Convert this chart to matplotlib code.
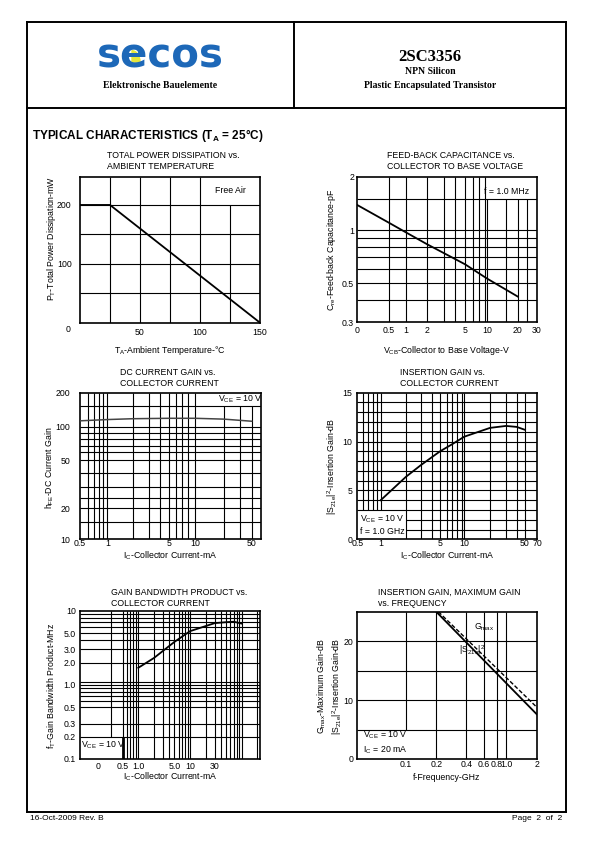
import matplotlib
matplotlib.use("Agg")
import matplotlib.pyplot as plt
import numpy as np
from matplotlib.lines import Line2D
from matplotlib.patches import Wedge

plt.rcParams["font.family"] = ["Liberation Sans", "DejaVu Sans"]
plt.rcParams["mathtext.fontset"] = "custom"
plt.rcParams["mathtext.rm"] = "Liberation Sans"
plt.rcParams["mathtext.bf"] = "Liberation Sans:bold"

# ---- data ----
temp_c = [0, 25, 150]
power_mw = [200, 200, 0]

vcb_v = [0, 0.5, 1, 2, 5, 10, 20]
cre_pf = [1.39, 1.10, 0.97, 0.83, 0.64, 0.53, 0.42]

ic_hfe_ma = [0.5, 1, 2, 5, 10, 20, 50]
hfe = [114, 117, 119, 120, 120, 118, 113]

ic_s21_ma = [1, 2, 3, 5, 7, 10, 20, 30, 40, 50]
s21_db = [4.0, 6.4, 7.6, 9.0, 9.7, 10.5, 11.4, 11.6, 11.5, 11.2]

ic_ft_ma = [1, 2, 5, 10, 20, 30, 50, 70, 100]
ft = [1.7, 2.3, 3.8, 5.3, 6.2, 6.8, 7.0, 7.1, 6.7]

freq_ghz = [0.2, 2.0]
s21_f_db = [25, 7.6]
freq_gmax_ghz = [0.21, 2.0]
gmax_db = [25, 8.8]

W, H = 595, 842
fig = plt.figure(figsize=(W / 100, H / 100), dpi=100)


def rect(l, t, r, b):
    return [l / W, 1 - b / H, (r - l) / W, (b - t) / H]


def ftext(x, y, s, **kw):
    fig.text(x / W, 1 - y / H, s, **kw)


def fline(x0, y0, x1, y1, lw=1.4):
    fig.add_artist(Line2D([x0 / W, x1 / W], [1 - y0 / H, 1 - y1 / H], color="k", lw=lw))


def piece(vals, pos):
    # hand drawn datasheet axes: value -> paper position, piecewise
    vals = np.asarray(vals, float)
    pos = np.asarray(pos, float)
    return (lambda v: np.interp(v, vals, pos), lambda p: np.interp(p, pos, vals))


def grid(ax, xs, ys, box=None, lw=0.8):
    xa, xb = ax.get_xlim()
    ya, yb = ax.get_ylim()
    for x in xs:
        if box and box[0] < x < box[1]:
            segs = [(ya, box[2]), (box[3], yb)]
        else:
            segs = [(ya, yb)]
        for a, b in segs:
            if b > a:
                ax.vlines(x, a, b, color="k", lw=lw, zorder=1)
    for y in ys:
        if box and box[2] < y < box[3]:
            segs = [(xa, box[0]), (box[1], xb)]
        else:
            segs = [(xa, xb)]
        for a, b in segs:
            if b > a:
                ax.hlines(y, a, b, color="k", lw=lw, zorder=1)


def style(ax, xpad=2, ypad=3):
    for s in ax.spines.values():
        s.set_linewidth(1.2)
    ax.tick_params(length=0, labelsize=6.3)
    ax.tick_params(axis="x", pad=xpad)
    ax.tick_params(axis="y", pad=ypad)
    ax.xaxis.set_minor_locator(matplotlib.ticker.NullLocator())
    ax.yaxis.set_minor_locator(matplotlib.ticker.NullLocator())


FS = 6.3

# ---- page frame and header ----
fline(27, 22, 566, 22)
fline(27, 22, 27, 812)
fline(566, 22, 566, 812)
fline(27, 812, 566, 812)
fline(27, 108, 566, 108)
fline(294, 22, 294, 108)

ftext(160, 68, "secos", fontsize=29, fontweight="heavy", family="DejaVu Sans",
      color="#1d68b8", ha="center", va="baseline")
fig.add_artist(Wedge((132 / W, 1 - 62 / H), 8 / W, 0, 90, color="#e6e63c",
                     transform=fig.transFigure))
ftext(160, 86, "Elektronische Bauelemente", fontsize=7, fontweight="bold",
      family="Liberation Serif", ha="center", va="center")
ftext(430, 57, "2SC3356", fontsize=12, fontweight="bold",
      family="Liberation Serif", ha="center", va="center")
ftext(430, 72, "NPN Silicon", fontsize=7, fontweight="bold",
      family="Liberation Serif", ha="center", va="center")
ftext(430, 85, "Plastic Encapsulated Transistor", fontsize=7, fontweight="bold",
      family="Liberation Serif", ha="center", va="center")

ftext(32, 135, r"TYPICAL CHARACTERISTICS (T$_\mathbf{A}$ = 25°C)", fontsize=8.5,
      fontweight="bold", va="center")

ftext(30, 818, "16-Oct-2009 Rev. B", fontsize=6, va="center")
ftext(562, 818, "Page  2  of  2", fontsize=6, va="center", ha="right")

# ---- 1: total power dissipation ----
ax = fig.add_axes(rect(80, 176.7, 260, 322.7))
ax.set_xlim(0, 150)
ax.set_ylim(0, 248)
grid(ax, [25, 50, 75, 100, 125], [50, 100, 150, 200], box=(100, 150, 200, 250))
ax.plot(temp_c, power_mw, color="k", lw=1.3, zorder=3)
ax.set_xticks([50, 100, 150])
ax.set_yticks([100, 200])
style(ax, xpad=3.5, ypad=6)
ax.text(125, 224, "Free Air", fontsize=FS, ha="center", va="center")
ax.text(-0.05, -0.05, "0", fontsize=FS, ha="right", va="center", transform=ax.transAxes)
ftext(107, 161, "TOTAL POWER DISSIPATION vs.\nAMBIENT TEMPERATURE", fontsize=FS,
      va="center", linespacing=1.35)
ftext(52, 238, r"P$_\mathregular{T}$-Total Power Dissipation-mW", fontsize=FS,
      rotation=90, ha="center", va="center")
ftext(170, 350, r"T$_\mathregular{A}$-Ambient Temperature-°C", fontsize=FS,
      ha="center", va="center")

# ---- 2: feed-back capacitance ----
ax = fig.add_axes(rect(357, 177, 537, 322.3))
ax.set_xscale("function", functions=piece(
    [0, 0.5, 1, 2, 3, 4, 5, 6, 7, 8, 10, 15, 20, 25, 30],
    [357, 389, 406, 427.3, 444.3, 455, 465, 472.7, 479.3, 484.7, 487.3, 505.7, 517.7, 526.7, 537]))
ax.set_yscale("log")
ax.set_xlim(0, 30)
ax.set_ylim(0.3, 2)
grid(ax, [0.5, 1, 2, 3, 4, 5, 6, 7, 8, 10, 15, 20, 25],
     [0.4, 0.5, 0.6, 0.7, 0.8, 0.9, 1, 1.5], box=(8, 30, 1.5, 2))
ax.plot(vcb_v, cre_pf, color="k", lw=1.3, zorder=3)
ax.set_xticks([0, 0.5, 1, 2, 5, 10, 20, 30])
ax.set_xticklabels(["0", "0.5", "1", "2", "5", "10", "20", "30"])
ax.set_yticks([0.3, 0.5, 1, 2])
ax.set_yticklabels(["0.3", "0.5", "1", "2"])
style(ax, xpad=2.5, ypad=2)
ax.text(0.83, 0.9, "f = 1.0 MHz", fontsize=FS, ha="center", va="center", transform=ax.transAxes)
ftext(387, 161, "FEED-BACK CAPACITANCE vs.\nCOLLECTOR TO BASE VOLTAGE", fontsize=FS,
      va="center", linespacing=1.35)
ftext(332, 250, r"C$_\mathregular{re}$-Feed-back Capacitance-pF", fontsize=FS,
      rotation=90, ha="center", va="center")
ftext(447, 350, r"V$_\mathregular{CB}$-Collector to Base Voltage-V", fontsize=FS,
      ha="center", va="center")

# ---- 3: DC current gain ----
ax = fig.add_axes(rect(80, 392.7, 260.7, 539.3))
ax.set_xscale("function", functions=piece(
    [0.5, 0.6, 0.7, 0.8, 0.9, 1, 2, 3, 4, 5, 6, 7, 8, 10, 20, 30, 50, 70],
    [80, 88.3, 94, 99, 103.3, 107.3, 132.7, 149.3, 160, 169, 176, 182.3, 188.3, 195, 224, 240, 251.7, 260.7]))
ax.set_yscale("function", functions=piece(
    [10, 15, 20, 25, 30, 40, 50, 60, 70, 80, 90, 100, 150, 200],
    [-539.3, -521.7, -508.3, -498.3, -486.7, -473.3, -460, -452.3, -445.7, -439, -432.7, -426.7, -405.7, -392.7]))
ax.set_xlim(0.5, 70)
ax.set_ylim(10, 200)
grid(ax, [0.6, 0.7, 0.8, 0.9, 1, 2, 3, 4, 5, 6, 7, 8, 10, 20, 30, 50],
     [15, 20, 25, 30, 40, 50, 60, 70, 80, 90, 100, 150], box=(10, 70, 150, 200))
ax.plot(ic_hfe_ma, hfe, color="#444444", lw=1.1, zorder=3)
ax.set_xticks([0.5, 1, 5, 10, 50])
ax.set_xticklabels(["0.5", "1", "5", "10", "50"])
ax.set_yticks([10, 20, 50, 100, 200])
ax.set_yticklabels(["10", "20", "50", "100", "200"])
style(ax, xpad=0, ypad=7)
ax.text(30, 175, r"V$_\mathregular{CE}$ = 10 V", fontsize=FS, ha="center", va="center")
ftext(120, 378, "DC CURRENT GAIN vs.\nCOLLECTOR CURRENT", fontsize=FS,
      va="center", linespacing=1.35)
ftext(50, 468, r"h$_\mathregular{FE}$-DC Current Gain", fontsize=FS,
      rotation=90, ha="center", va="center")
ftext(170, 556, r"I$_\mathregular{C}$-Collector Current-mA", fontsize=FS,
      ha="center", va="center")

# ---- 4: insertion gain vs collector current ----
ax = fig.add_axes(rect(357.3, 392.7, 537.3, 539.3))
ax.set_xscale("function", functions=piece(
    [0.5, 0.6, 0.7, 0.8, 0.9, 1, 2, 3, 4, 5, 6, 7, 8, 9, 10, 20, 30, 40, 50, 70],
    [357.3, 363.3, 368.3, 372.7, 376.7, 380.7, 406, 421, 431.7, 440, 446.7, 451.7, 456.7, 461.7, 464.3, 490, 506, 516.7, 525, 537.3]))
ax.set_xlim(0.5, 70)
ax.set_ylim(0, 15)
grid(ax, [0.6, 0.7, 0.8, 0.9, 1, 2, 3, 4, 5, 6, 7, 8, 9, 10, 20, 30, 40, 50],
     list(range(1, 15)), box=(0.5, 2, 0, 3))
ax.plot(ic_s21_ma, s21_db, color="k", lw=1.3, zorder=3)
ax.set_xticks([0.5, 1, 5, 10, 50, 70])
ax.set_xticklabels(["0.5", "1", "5", "10", "50", "70"])
ax.set_yticks([0, 5, 10, 15])
style(ax, xpad=0, ypad=3.5)
ax.text(0.015, 0.1, "V$_\\mathregular{CE}$ = 10 V\nf = 1.0 GHz", fontsize=FS, ha="left",
        va="center", transform=ax.transAxes, linespacing=1.3)
ftext(400, 378, "INSERTION GAIN vs.\nCOLLECTOR CURRENT", fontsize=FS,
      va="center", linespacing=1.35)
ftext(332, 466, r"|S$_\mathregular{21e}$|$^\mathregular{2}$-Insertion Gain-dB", fontsize=FS,
      rotation=90, ha="center", va="center")
ftext(447, 556, r"I$_\mathregular{C}$-Collector Current-mA", fontsize=FS,
      ha="center", va="center")

# ---- 5: gain bandwidth product ----
ax = fig.add_axes(rect(80, 610.7, 260, 759))
# left of 0.3 mA the paper is linear, above it logarithmic
ax.set_xscale("function", functions=(
    lambda v: np.where(np.asarray(v) >= 0.3, 138.3 + 51.7 * np.log10(np.maximum(v, 0.3)),
                       np.interp(v, [-0.2, 0, 0.3], [80, 98.3, 111.3])),
    lambda p: np.where(np.asarray(p) >= 111.3, 10 ** ((np.asarray(p) - 138.3) / 51.7),
                       np.interp(p, [80, 98.3, 111.3], [-0.2, 0, 0.3]))))
ax.set_yscale("log")
ax.set_xlim(-0.2, 225)
ax.set_ylim(0.1, 10)
grid(ax, [0.3, 0.5, 0.6, 0.7, 0.8, 0.9, 1, 2, 3, 4, 5, 6, 7, 8, 9, 10,
          20, 30, 40, 50, 60, 70, 80, 90, 100, 200],
     [0.2, 0.3, 0.5, 0.6, 0.7, 0.8, 0.9, 1, 1.1, 2, 3, 4, 5, 6, 7, 8, 9], box=(-0.2, 0.5, 0.1, 0.2))
ax.vlines(0.5, 0.1, 0.2, color="k", lw=2, zorder=2)
ax.plot(ic_ft_ma, ft, color="k", lw=1.3, zorder=3)
ax.set_xticks([0, 0.5, 1, 5, 10, 30])
ax.set_xticklabels(["0", "0.5", "1.0", "5.0", "10", "30"])
ax.set_yticks([0.1, 0.2, 0.3, 0.5, 1, 2, 3, 5, 10])
ax.set_yticklabels(["0.1", "0.2", "0.3", "0.5", "1.0", "2.0", "3.0", "5.0", "10"])
style(ax, xpad=2, ypad=3)
ax.text(0.005, 0.09, r"V$_\mathregular{CE}$ = 10 V", fontsize=FS, ha="left", va="center",
        transform=ax.transAxes)
ftext(111, 598, "GAIN BANDWIDTH PRODUCT vs.\nCOLLECTOR CURRENT", fontsize=FS,
      va="center", linespacing=1.35)
ftext(52, 686, r"f$_\mathregular{T}$-Gain Bandwidth Product-MHz", fontsize=FS,
      rotation=90, ha="center", va="center")
ftext(170, 777, r"I$_\mathregular{C}$-Collector Current-mA", fontsize=FS,
      ha="center", va="center")

# ---- 6: insertion / maximum gain vs frequency ----
ax = fig.add_axes(rect(357.3, 611.7, 536.7, 759))
ax.set_xscale("log")
ax.set_xlim(0.0328, 2.0)
ax.set_ylim(0, 25)
grid(ax, [0.1, 0.2, 0.4, 0.6, 0.8, 1.0], [5, 10, 15, 20], box=(0.0328, 0.2, 0, 5))
ax.plot(freq_ghz, s21_f_db, color="k", lw=1.3, zorder=3)
ax.plot(freq_gmax_ghz, gmax_db, color="k", lw=1.0, ls=(0, (3, 1.5)), zorder=3)
ax.set_xticks([0.1, 0.2, 0.4, 0.6, 0.8, 1.0, 2.0])
ax.set_xticklabels(["0.1", "0.2", "0.4", "0.6", "0.8", "1.0", "2"])
ax.set_yticks([0, 10, 20])
style(ax, xpad=0.5, ypad=3)
ax.text(0.6, 22.4, r"G$_\mathregular{max}$", fontsize=FS, ha="center", va="center")
ax.text(0.45, 18.4, r"|S$_\mathregular{21e}$|$^\mathregular{2}$", fontsize=FS, ha="center", va="center")
ax.text(0.03, 0.11, "V$_\\mathregular{CE}$ = 10 V\nI$_\\mathregular{C}$ = 20 mA", fontsize=FS,
        ha="left", va="center", transform=ax.transAxes, linespacing=1.3)
ftext(378, 598, "INSERTION GAIN, MAXIMUM GAIN\nvs. FREQUENCY", fontsize=FS,
      va="center", linespacing=1.35)
ftext(330, 686, "G$_\\mathregular{max}$-Maximum Gain-dB\n|S$_\\mathregular{21e}$|$^\\mathregular{2}$-Insertion Gain-dB",
      fontsize=FS, rotation=90, ha="center", va="center", linespacing=1.2)
ftext(447, 777, "f-Frequency-GHz", fontsize=FS, ha="center", va="center")

fig.savefig("out.png", dpi=100)
